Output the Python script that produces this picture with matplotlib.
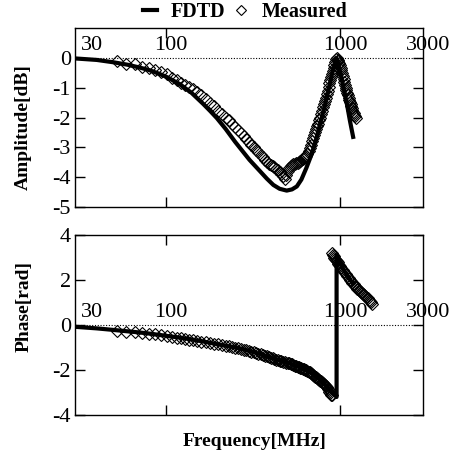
#!/usr/bin/env python3
import matplotlib
matplotlib.use('Agg')
import matplotlib.pyplot as plt
from matplotlib.lines import Line2D
from matplotlib import transforms

plt.rcParams['font.family'] = ['Liberation Serif', 'DejaVu Serif']

# FDTD, amplitude [dB]
fdtd_amp_f = [30, 40, 50, 60, 70, 80, 90, 100, 120, 140, 164, 180, 196, 220, 250, 280, 302,
              347, 380, 414, 450, 494, 530, 565, 600, 642, 680, 720, 768, 810, 857, 900,
              930, 956, 980, 1010, 1040, 1068, 1100, 1140, 1190]
fdtd_amp = [-0.02, -0.07, -0.15, -0.23, -0.32, -0.41, -0.52, -0.63, -0.88, -1.17, -1.55, -1.79,
            -2.02, -2.38, -2.82, -3.18, -3.42, -3.80, -4.05, -4.26, -4.39, -4.45, -4.41, -4.31,
            -4.08, -3.68, -3.30, -2.85, -2.23, -1.70, -1.10, -0.55, -0.22, -0.02, -0.20, -0.55,
            -0.90, -1.22, -1.60, -2.10, -2.65]

# FDTD, phase [rad]
fdtd_ph_f = [30, 40, 50, 60, 70, 80, 100, 130, 160, 200, 266, 340, 414, 517, 642, 700, 768,
             837, 894, 930, 956, 956, 1000, 1050, 1100, 1146, 1190]
fdtd_ph = [-0.08, -0.15, -0.22, -0.28, -0.33, -0.38, -0.48, -0.60, -0.72, -0.86, -1.04, -1.27,
           -1.49, -1.71, -2.00, -2.17, -2.42, -2.72, -3.00, -3.10, -3.20, 3.10, 2.75, 2.45,
           2.20, 2.00, 1.85]

# Measured, amplitude [dB]
meas_amp_f = [52, 59, 66, 73, 80, 87, 94, 101, 108, 115, 122, 129, 136, 143, 150,
              160, 170, 180, 190, 200, 210, 220, 230, 240, 250, 260, 270, 280, 290, 300,
              310, 320, 330, 340, 350, 360, 370, 380, 390, 400, 410, 420, 430, 440, 450,
              460, 470, 480, 490, 500, 510, 520, 530, 540, 550, 560, 570, 580, 590, 600,
              610, 620, 630, 640, 650, 660, 670, 680, 690, 700, 710, 720, 730, 740, 750,
              760, 770, 780, 790, 800, 810, 820, 830, 840, 850, 860, 870, 880, 890, 900,
              910, 920, 930, 940, 950, 960, 970, 980, 990, 1000, 1010, 1020, 1030, 1040,
              1050, 1060, 1070, 1080, 1090, 1100, 1110, 1120, 1130, 1140, 1150, 1160, 1170,
              1180, 1190, 1200, 1210, 1220, 1230]
meas_amp = [-0.12, -0.20, -0.22, -0.30, -0.35, -0.42, -0.49, -0.55, -0.66, -0.75, -0.83, -0.91,
            -0.98, -1.05, -1.13,
            -1.26, -1.38, -1.50, -1.62, -1.77, -1.89, -2.00, -2.10, -2.21, -2.31, -2.42, -2.52,
            -2.62, -2.72, -2.82, -2.91, -3.00, -3.09, -3.17, -3.26, -3.34, -3.42, -3.50, -3.55,
            -3.59, -3.63, -3.67, -3.72, -3.77, -3.82, -3.88, -3.95, -4.05, -3.92, -3.80,
            -3.70, -3.64, -3.60, -3.57, -3.55, -3.53, -3.51, -3.49, -3.46, -3.43, -3.40, -3.37,
            -3.33, -3.29, -3.22, -3.13, -3.03, -2.92, -2.80, -2.68, -2.58, -2.48, -2.39, -2.30,
            -2.21, -2.10, -2.00, -1.88, -1.77, -1.66, -1.55, -1.45, -1.34, -1.22, -1.10, -0.98,
            -0.86, -0.75, -0.64, -0.54, -0.44, -0.34, -0.24, -0.14, -0.05, -0.02, -0.06, -0.12,
            -0.18, -0.25, -0.33, -0.42, -0.52, -0.62, -0.72, -0.82, -0.91, -1.00, -1.09, -1.17,
            -1.25, -1.33, -1.41, -1.49, -1.56, -1.62, -1.68, -1.74, -1.80, -1.86, -1.91, -1.95,
            -2.00]

# Measured, phase [rad]
meas_ph_f = [52, 59, 66, 73, 80, 87, 94, 101, 108, 115, 122, 129, 136, 143, 150,
             160, 170, 180, 190, 200, 210, 220, 230, 240, 250, 260, 270, 280, 290, 300,
             310, 320, 330, 340, 350, 360, 370, 380, 390, 400, 410, 420, 430, 440, 450,
             460, 470, 480, 490, 500, 510, 520, 530, 540, 550, 560, 570, 580, 590, 600,
             610, 620, 630, 640, 650, 660, 670, 680, 690, 700, 710, 720, 730, 740, 750,
             760, 770, 780, 790, 800, 810, 820, 830, 840, 850, 860, 870, 880, 890, 895,
             900, 910, 920, 930, 940, 950, 960, 970, 980, 990, 1000, 1020, 1040, 1060, 1080,
             1100, 1120, 1140, 1160, 1180, 1200, 1220, 1240, 1260, 1280, 1300, 1320, 1340,
             1360, 1380, 1400, 1420, 1440, 1460, 1480, 1500, 1525]
meas_ph = [-0.26, -0.30, -0.32, -0.35, -0.38, -0.41, -0.44, -0.48, -0.52, -0.56, -0.59, -0.62,
           -0.65, -0.68, -0.70,
           -0.74, -0.77, -0.80, -0.83, -0.86, -0.89, -0.92, -0.95, -0.98, -1.00, -1.03, -1.05,
           -1.09, -1.12, -1.15, -1.18, -1.21, -1.24, -1.27, -1.30, -1.33, -1.36, -1.39, -1.42,
           -1.45, -1.48, -1.51, -1.54, -1.56, -1.58, -1.61, -1.63, -1.65, -1.67, -1.69,
           -1.71, -1.72, -1.75, -1.77, -1.80, -1.83, -1.85, -1.88, -1.90, -1.92, -1.94, -1.96,
           -1.98, -2.00, -2.03, -2.07, -2.11, -2.15, -2.18, -2.22, -2.25, -2.29, -2.32, -2.36,
           -2.40, -2.43, -2.47, -2.51, -2.55, -2.59, -2.63, -2.68, -2.72, -2.77, -2.83, -2.90,
           -2.96, -3.02, -3.09, -3.12,
           3.18, 3.12, 3.05, 2.99, 2.93, 2.88, 2.83, 2.78, 2.73, 2.68, 2.63, 2.53, 2.43, 2.34,
           2.25, 2.17, 2.09, 2.02, 1.95, 1.88, 1.81, 1.75, 1.68, 1.62, 1.56, 1.51, 1.46, 1.42,
           1.38, 1.33, 1.29, 1.24, 1.18, 1.13, 1.08, 1.02, 0.95]

xticks = [30, 100, 1000, 3000]
xticklabels = ['30', '100', '1000', '3000']
amp_yticks = [-5, -4, -3, -2, -1, 0]
ph_yticks = [-4, -2, 0, 2, 4]

MS = 6.2
MEW = 0.8


def styl(ax, ylim, yticks):
    ax.set_xscale('log')
    ax.set_xlim(30, 3000)
    ax.set_ylim(*ylim)
    ax.set_yticks(yticks)
    ax.set_yticklabels(['%d' % t for t in yticks], fontsize=16)
    # tick marks only at 100 and 1000, labels are put on the zero line by hand
    ax.set_xticks([100, 1000])
    ax.set_xticklabels([])
    ax.minorticks_off()
    ax.tick_params(axis='both', direction='in', length=7, width=1,
                   top=True, right=True, pad=3)
    ax.axhline(0, color='black', lw=0.8, ls=(0, (1, 1.5)), zorder=1)
    for sp in ax.spines.values():
        sp.set_linewidth(1.0)

    tr = ax.transData
    for x, lab in zip(xticks, xticklabels):
        if x == 30:
            off = transforms.ScaledTranslation(6 / 100, 3 / 100, ax.figure.dpi_scale_trans)
            ax.text(x, 0, lab, transform=tr + off, ha='left', va='bottom', fontsize=16)
        else:
            off = transforms.ScaledTranslation(5 / 100, 3 / 100, ax.figure.dpi_scale_trans)
            ax.text(x, 0, lab, transform=tr + off, ha='center', va='bottom', fontsize=16)


def plotmain():
    fig = plt.figure(figsize=(4.56, 4.57), dpi=100)
    ax1 = fig.add_axes([75 / 456, 1 - 207 / 457, 348 / 456, 179 / 457])
    ax2 = fig.add_axes([75 / 456, 1 - 415 / 457, 348 / 456, 180 / 457])

    ax1.plot(fdtd_amp_f, fdtd_amp, color='black', lw=3, zorder=3)
    ax1.plot(meas_amp_f, meas_amp, ls='none', marker='D', ms=MS, mfc='none',
             mec='black', mew=MEW, zorder=4)
    styl(ax1, (-5, 1), amp_yticks)

    ax2.plot(fdtd_ph_f, fdtd_ph, color='black', lw=3, zorder=3)
    ax2.plot(meas_ph_f, meas_ph, ls='none', marker='D', ms=MS, mfc='none',
             mec='black', mew=MEW, zorder=4)
    styl(ax2, (-4, 4), ph_yticks)

    fig.text(23 / 456, 1 - 127 / 457, 'Amplitude[dB]', rotation=90, ha='center',
             va='center', fontsize=14, fontweight='bold')
    fig.text(24 / 456, 1 - 307 / 457, 'Phase[rad]', rotation=90, ha='center',
             va='center', fontsize=14, fontweight='bold')
    fig.text(255 / 456, 1 - 441 / 457, 'Frequency[MHz]', ha='center', va='center',
             fontsize=14, fontweight='bold')

    handles = [Line2D([], [], color='black', lw=3),
               Line2D([], [], ls='none', marker='D', ms=5, mfc='none', mec='black', mew=0.8)]
    fig.legend(handles, ['FDTD', 'Measured'], loc='center', bbox_to_anchor=(245 / 456, 1 - 12 / 457),
               ncol=2, frameon=False, handlelength=0.7, handletextpad=0.7, columnspacing=0.4,
               prop={'weight': 'bold', 'size': 14.5})

    fig.savefig('out.png', dpi=100)


if __name__ == '__main__':
    plotmain()
